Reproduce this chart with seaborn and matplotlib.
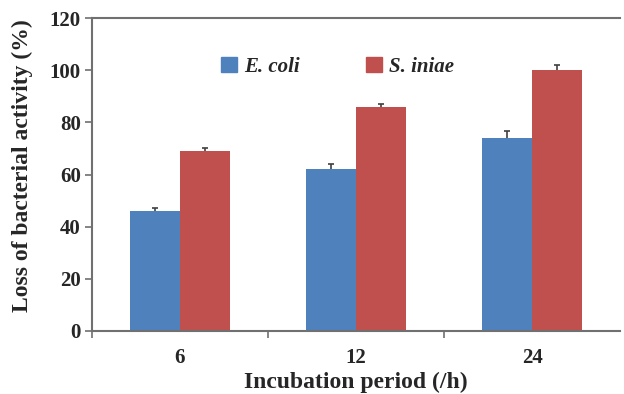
import matplotlib
matplotlib.use("Agg")
import matplotlib.pyplot as plt
import seaborn as sns
import pandas as pd
import numpy as np

# Loss of bacterial activity over incubation time
periods = ["6", "12", "24"]
ecoli = [46, 62, 74]
ecoli_err = [1.3, 2.0, 2.8]
siniae = [69, 86, 100]
siniae_err = [1.0, 1.2, 2.0]
series = ["E. coli", "S. iniae"]
colors = ["#4F81BD", "#C0504D"]

sns.set_theme(style="white")
plt.rcParams["font.family"] = ["Liberation Serif", "DejaVu Serif"]

df = pd.DataFrame({
    "period": periods * 2,
    "value": ecoli + siniae,
    "err": ecoli_err + siniae_err,
    "organism": [series[0]] * 3 + [series[1]] * 3,
})

fig = plt.figure(figsize=(6.24, 3.94), dpi=100)
ax = fig.add_axes([0.1474, 0.1599, 0.8462, 0.7944])

sns.barplot(data=df, x="period", y="value", hue="organism", order=periods,
            hue_order=series, palette=colors, width=0.57, gap=0,
            saturation=1, errorbar=None, legend=False, ax=ax,
            edgecolor="none")

# one-sided (upper) error bars with a small cap
cap = 0.018
for patch, (_, row) in zip(ax.patches, df.iterrows()):
    cx = patch.get_x() + patch.get_width() / 2
    top = row["value"] + row["err"]
    ax.vlines(cx, row["value"], top, color="#404040", linewidth=1.2)
    ax.hlines(top, cx - cap, cx + cap, color="#404040", linewidth=1.2)

ax.set_xlim(-0.5, 2.5)
ax.set_ylim(0, 120)
ax.set_yticks(np.arange(0, 121, 20))
ax.set_yticklabels([str(v) for v in range(0, 121, 20)],
                   fontsize=15, fontweight="bold")
ax.set_xticks(range(3))
ax.set_xticklabels(periods, fontsize=15, fontweight="bold")
ax.tick_params(axis="x", which="major", length=0, pad=12)
ax.set_xticks([-0.5, 0.5, 1.5], minor=True)
ax.tick_params(axis="x", which="minor", length=5, width=1.2,
               color="#707070", direction="out", bottom=True)
ax.tick_params(axis="y", length=5, width=1.2, color="#707070",
               direction="out", left=True, pad=3)

for side in ["left", "bottom", "top"]:
    ax.spines[side].set_color("#707070")
    ax.spines[side].set_linewidth(1.5)
ax.spines["right"].set_visible(False)

ax.set_xlabel("Incubation period (/h)", fontsize=17, fontweight="bold",
              va="baseline")
ax.xaxis.set_label_coords(0.5, -0.182)
ax.set_ylabel("Loss of bacterial activity (%)", fontsize=17,
              fontweight="bold")
ax.yaxis.set_label_coords(-0.112, 0.527)

handles = [plt.Rectangle((0, 0), 1, 1, color=c) for c in colors]
leg = ax.legend(handles, series, loc="center", bbox_to_anchor=(0.465, 0.845),
                ncol=2, frameon=False, handlelength=0.75, handleheight=0.75,
                handletextpad=0.35, columnspacing=3.2,
                prop={"family": "Liberation Serif", "weight": "bold",
                      "style": "italic", "size": 15})

fig.savefig("out.png", dpi=100)
